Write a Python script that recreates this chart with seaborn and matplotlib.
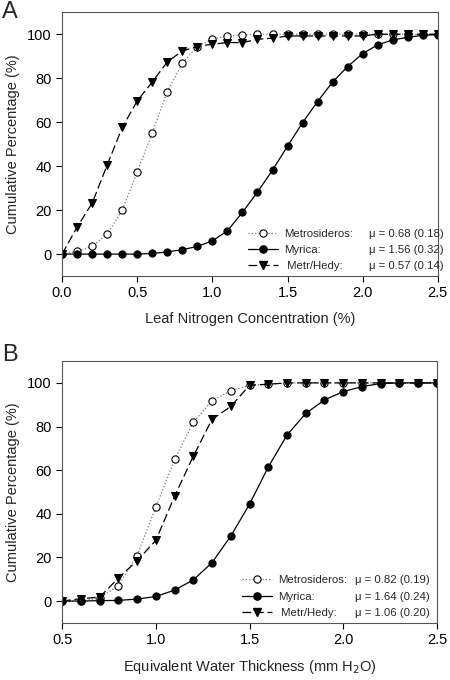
import numpy as np
import pandas as pd
import matplotlib
matplotlib.use('Agg')
import matplotlib.pyplot as plt
from matplotlib.lines import Line2D
import seaborn as sns

# Panel A - leaf nitrogen concentration (%)
nitrogen_x = [0.0, 0.1, 0.2, 0.3, 0.4, 0.5, 0.6, 0.7, 0.8, 0.9, 1.0, 1.1, 1.2,
              1.3, 1.4, 1.5, 1.6, 1.7, 1.8, 1.9, 2.0, 2.1, 2.2, 2.3, 2.4, 2.5]
nitrogen_metro = [0, 1.2, 3.5, 9.1, 20, 37.4, 55.2, 73.9, 86.8, 94.4, 97.9, 99.2, 99.7,
                  100, 100, 100, 100, 100, 100, 100, 100, 100, 100, 100, 100, 100]
nitrogen_myrica = [0, 0, 0, 0, 0, 0, 0.3, 1.0, 2.0, 3.5, 6.0, 10.6, 19.0,
                   28.2, 38.2, 49.1, 59.8, 69.4, 78.3, 85.3, 91.2, 95.2, 97.4, 98.6, 99.5, 99.8]
nitrogen_hedy = [0, 12.3, 23.2, 40.5, 57.6, 69.7, 78.3, 87.4, 92.4, 94.4, 95.5, 96.2, 96.2,
                 97.7, 98.2, 99.2, 99.2, 99.2, 99.2, 99.2, 99.2, 100, 100, 100, 100, 100]
nitrogen_stats = ['\u03bc = 0.68 (0.18)', '\u03bc = 1.56 (0.32)', '\u03bc = 0.57 (0.14)']

# Panel B - equivalent water thickness (mm H2O)
water_x = [0.5, 0.6, 0.7, 0.8, 0.9, 1.0, 1.1, 1.2, 1.3, 1.4, 1.5,
           1.6, 1.7, 1.8, 1.9, 2.0, 2.1, 2.2, 2.3, 2.4, 2.5]
water_metro = [0, 0, 1.4, 7.1, 20.8, 43.0, 64.9, 81.9, 91.8, 96.4, 98.9,
               99.4, 100, 100, 100, 100, 100, 100, 100, 100, 100]
water_myrica = [0, 0, 0.2, 0.3, 0.9, 2.1, 5.0, 9.7, 17.6, 29.8, 44.4,
                61.4, 76.1, 86.0, 92.2, 96.0, 98.3, 99.7, 100, 100, 100]
water_hedy = [0, 1.1, 1.8, 10.5, 18.5, 27.8, 48.0, 66.4, 83.3, 89.2, 98.9,
              99.4, 100, 100, 100, 100, 100, 100, 100, 100, 100]
water_stats = ['\u03bc = 0.82 (0.19)', '\u03bc = 1.64 (0.24)', '\u03bc = 1.06 (0.20)']

species = ['Metrosideros:', 'Myrica:', ' Metr/Hedy:']

sns.set_style('ticks')
plt.rcParams['font.family'] = ['Liberation Sans', 'DejaVu Sans']
plt.rcParams['font.size'] = 10.5

MS = 5.2
LEG_FS = 8.2


def draw_panel(ax, x, metro, myrica, hedy, stats, name_x, stat_x):
    df = pd.DataFrame({'x': x, 'metro': metro, 'myrica': myrica, 'hedy': hedy})
    sns.lineplot(data=df, x='x', y='metro', ax=ax, color='#7a7a7a', linestyle=':',
                 linewidth=0.9, marker='o', markersize=MS, markerfacecolor='white',
                 markeredgecolor='black', markeredgewidth=0.8)
    sns.lineplot(data=df, x='x', y='hedy', ax=ax, color='black', dashes=(7, 3),
                 linewidth=0.9, marker='v', markersize=MS + 0.6, markerfacecolor='black',
                 markeredgecolor='black')
    sns.lineplot(data=df, x='x', y='myrica', ax=ax, color='black', linestyle='-',
                 linewidth=0.9, marker='o', markersize=MS, markerfacecolor='black',
                 markeredgecolor='black')

    handles = [
        Line2D([], [], color='#7a7a7a', linestyle=':', linewidth=0.9, marker='o',
               markersize=MS, markerfacecolor='white', markeredgecolor='black',
               markeredgewidth=0.8),
        Line2D([], [], color='black', linestyle='-', linewidth=0.9, marker='o',
               markersize=MS, markerfacecolor='black', markeredgecolor='black'),
        Line2D([], [], color='black', dashes=(7, 3), linewidth=0.9, marker='v',
               markersize=MS + 0.6, markerfacecolor='black', markeredgecolor='black'),
    ]
    leg = ax.legend(handles, species, loc='lower left', bbox_to_anchor=(name_x, 0.01),
                    frameon=False, fontsize=LEG_FS, handlelength=2.6, handletextpad=0.5,
                    labelspacing=0.55, borderpad=0.2, borderaxespad=0.0)
    ax.add_artist(leg)
    blanks = [Line2D([], [], linestyle='none') for _ in stats]
    ax.legend(blanks, stats, loc='lower left', bbox_to_anchor=(stat_x, 0.01),
              frameon=False, fontsize=LEG_FS, handlelength=0, handletextpad=0,
              labelspacing=0.55, borderpad=0.2, borderaxespad=0.0)

    ax.set_ylim(-10, 110)
    ax.set_yticks([0, 20, 40, 60, 80, 100])
    ax.set_xticks([0.0, 0.5, 1.0, 1.5, 2.0, 2.5] if x[0] == 0.0 else [0.5, 1.0, 1.5, 2.0, 2.5])
    ax.xaxis.set_major_formatter(matplotlib.ticker.FormatStrFormatter('%.1f'))
    ax.set_ylabel('Cumulative Percentage (%)', fontsize=10.5, labelpad=5)
    ax.tick_params(direction='out', length=4, width=0.8, labelsize=10.5, colors='black')
    for s in ax.spines.values():
        s.set_color('#555555')
        s.set_linewidth(0.8)


fig = plt.figure(figsize=(4.5, 6.8), dpi=100)
ax_a = fig.add_axes([0.138, 0.594, 0.835, 0.388])
ax_b = fig.add_axes([0.138, 0.084, 0.833, 0.385])

draw_panel(ax_a, nitrogen_x, nitrogen_metro, nitrogen_myrica, nitrogen_hedy,
           nitrogen_stats, 0.49, 0.81)
ax_a.set_xlim(0.0, 2.5)
ax_a.set_xlabel('Leaf Nitrogen Concentration (%)', fontsize=10.5, labelpad=8)

draw_panel(ax_b, water_x, water_metro, water_myrica, water_hedy,
           water_stats, 0.475, 0.775)
ax_b.set_xlim(0.5, 2.5)
ax_b.set_xlabel('Equivalent Water Thickness (mm H$_2$O)', fontsize=10.5, labelpad=8)

fig.text(0.005, 0.998, 'A', fontsize=17, va='top', ha='left')
fig.text(0.005, 0.494, 'B', fontsize=17, va='top', ha='left')

fig.savefig('out.png', dpi=100)
